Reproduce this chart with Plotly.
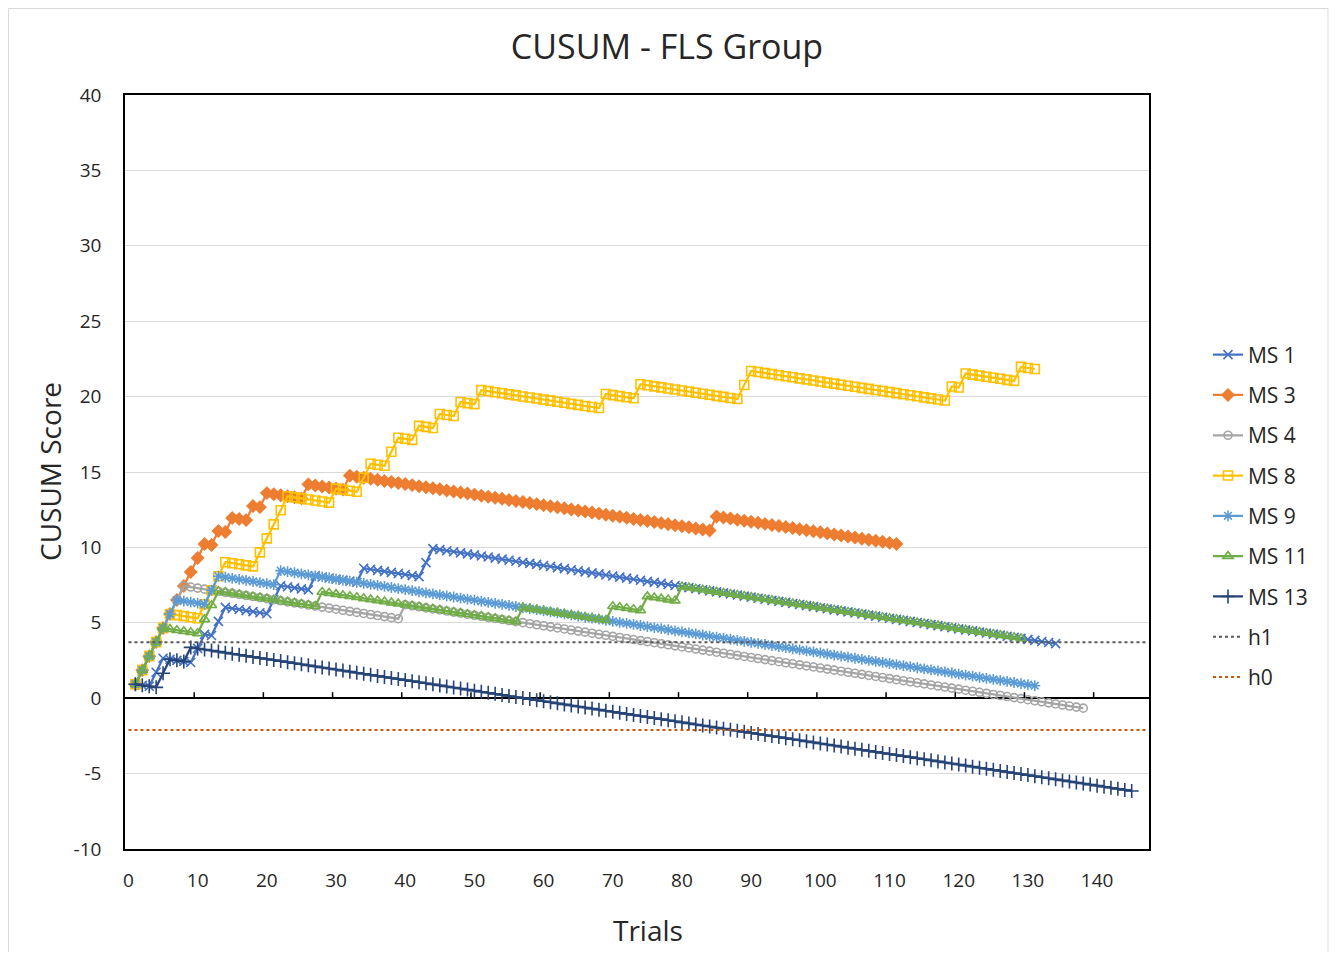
import plotly.graph_objects as go

# ---------------- data (CUSUM score per trial) ----------------
MS1 = [0.93, 0.86, 0.79, 1.72, 2.65, 2.58, 2.51, 2.44, 2.37, 3.30, 4.23, 4.16, 5.09, 6.02,
       5.95, 5.88, 5.81, 5.74, 5.67, 5.60, 6.53, 7.46, 7.39, 7.32, 7.25, 7.18, 8.11,
       8.04, 7.97, 7.90, 7.83, 7.76, 7.69, 8.62, 8.55, 8.48, 8.41, 8.34, 8.27, 8.20, 8.13, 8.06,
       8.99, 9.92, 9.85, 9.78, 9.71, 9.64, 9.57, 9.50,
       9.43, 9.36, 9.29, 9.22, 9.15, 9.08, 9.01, 8.94, 8.87, 8.80,
       8.73, 8.66, 8.59, 8.52, 8.45, 8.38, 8.31, 8.24, 8.17, 8.10,
       8.03, 7.96, 7.89, 7.82, 7.75, 7.68, 7.61, 7.54, 7.47, 7.40,
       7.33, 7.26, 7.19, 7.12, 7.05, 6.98, 6.91, 6.84, 6.77, 6.70,
       6.63, 6.56, 6.49, 6.42, 6.35, 6.28, 6.21, 6.14, 6.07, 6.00,
       5.93, 5.86, 5.79, 5.72, 5.65, 5.58, 5.51, 5.44, 5.37, 5.30,
       5.23, 5.16, 5.09, 5.02, 4.95, 4.88, 4.81, 4.74, 4.67, 4.60,
       4.53, 4.46, 4.39, 4.32, 4.25, 4.18, 4.11, 4.04, 3.97, 3.90,
       3.83, 3.76, 3.69, 3.62]

MS3 = [0.93, 1.86, 2.79, 3.72, 4.65, 5.58, 6.51, 7.44,
       8.37, 9.30, 10.23, 10.16, 11.09, 11.02, 11.95, 11.88, 11.81, 12.74, 12.67, 13.60,
       13.53, 13.46, 13.39, 13.32, 13.25, 14.18, 14.11, 14.04, 13.97, 13.90, 13.83, 14.76,
       14.69, 14.62, 14.55, 14.48, 14.41, 14.34, 14.27, 14.20, 14.13, 14.06,
       13.99, 13.92, 13.85, 13.78, 13.71, 13.64, 13.57, 13.50, 13.43, 13.36,
       13.29, 13.22, 13.15, 13.08, 13.01, 12.94, 12.87, 12.80, 12.73, 12.66,
       12.59, 12.52, 12.45, 12.38, 12.31, 12.24, 12.17, 12.10, 12.03, 11.96,
       11.89, 11.82, 11.75, 11.68, 11.61, 11.54, 11.47, 11.40, 11.33, 11.26,
       11.19, 11.12, 12.05,
       11.98, 11.91, 11.84, 11.77, 11.70, 11.63, 11.56, 11.49, 11.42, 11.35,
       11.28, 11.21, 11.14, 11.07, 11.00, 10.93, 10.86, 10.79, 10.72, 10.65,
       10.58, 10.51, 10.44, 10.37, 10.30, 10.23]

MS4 = [0.93, 1.86, 2.79, 3.72, 4.65, 5.58, 6.51, 7.44,
       7.37, 7.30, 7.23, 7.16, 7.09, 7.02, 6.95, 6.88, 6.81, 6.74,
       6.67, 6.60, 6.53, 6.46, 6.39, 6.32, 6.25, 6.18, 6.11, 6.04,
       5.97, 5.90, 5.83, 5.76, 5.69, 5.62, 5.55, 5.48, 5.41, 5.34, 5.27,
       6.20,
       6.13, 6.06, 5.99, 5.92, 5.85, 5.78, 5.71, 5.64, 5.57, 5.50,
       5.43, 5.36, 5.29, 5.22, 5.15, 5.08, 5.01, 4.94, 4.87, 4.80,
       4.73, 4.66, 4.59, 4.52, 4.45, 4.38, 4.31, 4.24, 4.17, 4.10,
       4.03, 3.96, 3.89, 3.82, 3.75, 3.68, 3.61, 3.54, 3.47, 3.40,
       3.33, 3.26, 3.19, 3.12, 3.05, 2.98, 2.91, 2.84, 2.77, 2.70,
       2.63, 2.56, 2.49, 2.42, 2.35, 2.28, 2.21, 2.14, 2.07, 2.00,
       1.93, 1.86, 1.79, 1.72, 1.65, 1.58, 1.51, 1.44, 1.37, 1.30,
       1.23, 1.16, 1.09, 1.02, 0.95, 0.88, 0.81, 0.74, 0.67, 0.60,
       0.53, 0.46, 0.39, 0.32, 0.25, 0.18, 0.11, 0.04, -0.03, -0.10,
       -0.17, -0.24, -0.31, -0.38, -0.45, -0.52, -0.59, -0.66]

MS8 = [0.93, 1.86, 2.79, 3.72, 4.65, 5.58,
       5.51, 5.44, 5.37, 5.30,
       6.23, 7.16, 8.09, 9.02,
       8.95, 8.88, 8.81, 8.74,
       9.67, 10.60, 11.53, 12.46, 13.39,
       13.32, 13.25, 13.18, 13.11, 13.04, 12.97,
       13.90, 13.83, 13.76, 13.69,
       14.62, 15.55, 15.48, 15.41,
       16.34, 17.27, 17.20, 17.13,
       18.06, 17.99, 17.92,
       18.85, 18.78, 18.71,
       19.64, 19.57, 19.50,
       20.43,
       20.36, 20.29, 20.22, 20.15, 20.08, 20.01, 19.94, 19.87, 19.80, 19.73,
       19.66, 19.59, 19.52, 19.45, 19.38, 19.31, 19.24,
       20.17, 20.10, 20.03, 19.96, 19.89,
       20.82, 20.75, 20.68, 20.61, 20.54, 20.47, 20.40, 20.33, 20.26, 20.19,
       20.12, 20.05, 19.98, 19.91, 19.84,
       20.77, 21.70,
       21.63, 21.56, 21.49, 21.42, 21.35, 21.28, 21.21, 21.14, 21.07, 21.00,
       20.93, 20.86, 20.79, 20.72, 20.65, 20.58, 20.51, 20.44, 20.37, 20.30,
       20.23, 20.16, 20.09, 20.02, 19.95, 19.88, 19.81, 19.74,
       20.67, 20.60, 21.53,
       21.46, 21.39, 21.32, 21.25, 21.18, 21.11, 21.04,
       21.97, 21.90, 21.83]

MS9 = [0.93, 1.86, 2.79, 3.72, 4.65, 5.58, 6.51,
       6.44, 6.37, 6.30, 6.23,
       7.16, 8.09,
       8.02, 7.95, 7.88, 7.81, 7.74, 7.67, 7.60, 7.53,
       8.46,
       8.39, 8.32, 8.25, 8.18, 8.11, 8.04, 7.97, 7.90, 7.83, 7.76,
       7.69, 7.62, 7.55, 7.48, 7.41, 7.34, 7.27, 7.20, 7.13, 7.06,
       6.99, 6.92, 6.85, 6.78, 6.71, 6.64, 6.57, 6.50, 6.43, 6.36,
       6.29, 6.22, 6.15, 6.08, 6.01, 5.94, 5.87, 5.80, 5.73, 5.66,
       5.59, 5.52, 5.45, 5.38, 5.31, 5.24, 5.17, 5.10, 5.03, 4.96,
       4.89, 4.82, 4.75, 4.68, 4.61, 4.54, 4.47, 4.40, 4.33, 4.26,
       4.19, 4.12, 4.05, 3.98, 3.91, 3.84, 3.77, 3.70, 3.63, 3.56,
       3.49, 3.42, 3.35, 3.28, 3.21, 3.14, 3.07, 3.00, 2.93, 2.86,
       2.79, 2.72, 2.65, 2.58, 2.51, 2.44, 2.37, 2.30, 2.23, 2.16,
       2.09, 2.02, 1.95, 1.88, 1.81, 1.74, 1.67, 1.60, 1.53, 1.46,
       1.39, 1.32, 1.25, 1.18, 1.11, 1.04, 0.97, 0.90, 0.83]

MS11 = [0.93, 1.86, 2.79, 3.72, 4.65,
        4.58, 4.51, 4.44, 4.37, 4.30,
        5.23, 6.16, 7.09,
        7.02, 6.95, 6.88, 6.81, 6.74, 6.67, 6.60, 6.53, 6.46, 6.39, 6.32, 6.25, 6.18, 6.11,
        7.04,
        6.97, 6.90, 6.83, 6.76, 6.69, 6.62, 6.55, 6.48, 6.41, 6.34,
        6.27, 6.20, 6.13, 6.06, 5.99, 5.92, 5.85, 5.78, 5.71, 5.64,
        5.57, 5.50, 5.43, 5.36, 5.29, 5.22, 5.15, 5.08,
        6.01,
        5.94, 5.87, 5.80, 5.73, 5.66, 5.59, 5.52, 5.45, 5.38, 5.31, 5.24, 5.17,
        6.10, 6.03, 5.96, 5.89, 5.82,
        6.75, 6.68, 6.61, 6.54, 6.47,
        7.40,
        7.33, 7.26, 7.19, 7.12, 7.05, 6.98, 6.91, 6.84, 6.77, 6.70,
        6.63, 6.56, 6.49, 6.42, 6.35, 6.28, 6.21, 6.14, 6.07, 6.00,
        5.93, 5.86, 5.79, 5.72, 5.65, 5.58, 5.51, 5.44, 5.37, 5.30,
        5.23, 5.16, 5.09, 5.02, 4.95, 4.88, 4.81, 4.74, 4.67, 4.60,
        4.53, 4.46, 4.39, 4.32, 4.25, 4.18, 4.11, 4.04, 3.97]

MS13 = [0.93, 0.86, 0.79, 0.72, 1.65, 2.58, 2.51, 2.44, 3.37,
        3.30, 3.23, 3.16, 3.09, 3.02, 2.95, 2.88, 2.81, 2.74, 2.67,
        2.60, 2.53, 2.46, 2.39, 2.32, 2.25, 2.18, 2.11, 2.04, 1.97,
        1.90, 1.83, 1.76, 1.69, 1.62, 1.55, 1.48, 1.41, 1.34, 1.27,
        1.20, 1.13, 1.06, 0.99, 0.92, 0.85, 0.78, 0.71, 0.64, 0.57,
        0.50, 0.43, 0.36, 0.29, 0.22, 0.15, 0.08, 0.01, -0.06, -0.13,
        -0.20, -0.27, -0.34, -0.41, -0.48, -0.55, -0.62, -0.69, -0.76, -0.83,
        -0.90, -0.97, -1.04, -1.11, -1.18, -1.25, -1.32, -1.39, -1.46, -1.53,
        -1.60, -1.67, -1.74, -1.81, -1.88, -1.95, -2.02, -2.09, -2.16, -2.23,
        -2.30, -2.37, -2.44, -2.51, -2.58, -2.65, -2.72, -2.79, -2.86, -2.93,
        -3.00, -3.07, -3.14, -3.21, -3.28, -3.35, -3.42, -3.49, -3.56, -3.63,
        -3.70, -3.77, -3.84, -3.91, -3.98, -4.05, -4.12, -4.19, -4.26, -4.33,
        -4.40, -4.47, -4.54, -4.61, -4.68, -4.75, -4.82, -4.89, -4.96, -5.03,
        -5.10, -5.17, -5.24, -5.31, -5.38, -5.45, -5.52, -5.59, -5.66, -5.73,
        -5.80, -5.87, -5.94, -6.01, -6.08, -6.15]

H1 = 3.71     # upper decision limit
H0 = -2.11    # lower decision limit

CATEGORY_FIRST = 0
CATEGORY_LAST = 147
X_TICKS = [0, 10, 20, 30, 40, 50, 60, 70, 80, 90, 100, 110, 120, 130, 140]
Y_TICKS = [-10, -5, 0, 5, 10, 15, 20, 25, 30, 35, 40]

SERIES = [
    ("MS 1", MS1, "#4472C4", "x-thin-open", 9),
    ("MS 3", MS3, "#ED7D31", "diamond", 9),
    ("MS 4", MS4, "#A5A5A5", "circle-open", 8),
    ("MS 8", MS8, "#FFC000", "square-open", 9),
    ("MS 9", MS9, "#5B9BD5", "asterisk-open", 9),
    ("MS 11", MS11, "#70AD47", "triangle-up-open", 9),
    ("MS 13", MS13, "#264478", "cross-thin-open", 10),
]

FONT = "Open Sans"
TXT = "#262626"

# page has an 8px body margin: figure is placed at (8, 8)
FIG_W, FIG_H = 1321, 944

fig = go.Figure()
for name, vals, col, sym, msize in SERIES:
    fig.add_trace(go.Scatter(
        x=list(range(1, len(vals) + 1)), y=vals, name=name, mode="lines+markers",
        line=dict(color=col, width=2.25),
        marker=dict(symbol=sym, size=msize, color=col, line=dict(color=col, width=1.6)),
        legendgroup=name,
    ))

cats = [CATEGORY_FIRST, CATEGORY_LAST]
fig.add_trace(go.Scatter(x=cats, y=[H1, H1], name="h1", mode="lines",
                         line=dict(color="#595959", width=2, dash="dot"), legendgroup="h1"))
fig.add_trace(go.Scatter(x=cats, y=[H0, H0], name="h0", mode="lines",
                         line=dict(color="#C55A11", width=2, dash="dot"), legendgroup="h0"))

# category-boundary tick marks on the horizontal axis that crosses at 0
shapes = []
for t in X_TICKS[1:]:
    shapes.append(dict(type="line", xref="x", yref="y", ysizemode="pixel", yanchor=0,
                       x0=t - 0.5, x1=t - 0.5, y0=0, y1=6,
                       line=dict(color="#000000", width=1.5)))
# outer chart-area border
shapes.append(dict(type="rect", xref="paper", yref="paper",
                   x0=(8.5 - 125) / 1024, x1=(1328 - 125) / 1024,
                   y0=(849 - 970) / 754, y1=(849 - 8.5) / 754,
                   line=dict(color="#D9D9D9", width=1), fillcolor="rgba(0,0,0,0)", layer="below"))

fig.update_layout(
    width=FIG_W, height=FIG_H,
    margin=dict(l=117, r=180, t=87, b=103),
    paper_bgcolor="white", plot_bgcolor="white",
    font=dict(family=FONT, color=TXT, size=19),
    title=dict(text="CUSUM - FLS Group", x=(667 - 8) / FIG_W, xref="container", xanchor="center",
               y=1 - (47 - 8) / FIG_H, yref="container", yanchor="middle",
               font=dict(family=FONT, size=34, color=TXT)),
    showlegend=True,
    legend=dict(x=1.0576, xanchor="left", y=(849 - 516) / 754, yanchor="middle",
                font=dict(family=FONT, size=21, color=TXT), traceorder="grouped",
                tracegroupgap=10, bgcolor="rgba(0,0,0,0)"),
    shapes=shapes,
    annotations=[
        dict(text="CUSUM Score", xref="paper", yref="paper", x=(50 - 125) / 1024, y=(849 - 472) / 754,
             textangle=-90, showarrow=False, xanchor="center", yanchor="middle",
             font=dict(family=FONT, size=28, color=TXT)),
        dict(text="Trials", xref="paper", yref="paper", x=(648 - 125) / 1024, y=(849 - 930) / 754,
             showarrow=False, xanchor="center", yanchor="middle",
             font=dict(family=FONT, size=28, color=TXT)),
    ],
)

fig.update_xaxes(range=[CATEGORY_FIRST - 0.5, CATEGORY_LAST + 0.5], tickmode="array",
                 tickvals=X_TICKS, ticktext=[str(v) for v in X_TICKS],
                 showgrid=False, zeroline=False, showline=True, mirror=True,
                 linecolor="#000000", linewidth=1.5, ticks="", ticklabelstandoff=13,
                 tickfont=dict(family=FONT, size=19, color=TXT))
fig.update_yaxes(range=[-10, 40], tickmode="array", tickvals=Y_TICKS,
                 ticktext=[str(v) for v in Y_TICKS],
                 showgrid=True, gridcolor="#D9D9D9", gridwidth=1.3,
                 zeroline=True, zerolinecolor="#000000", zerolinewidth=1.8,
                 showline=True, mirror=True, linecolor="#000000", linewidth=1.5,
                 ticks="", ticklabelstandoff=18,
                 tickfont=dict(family=FONT, size=19, color=TXT))

fig.write_html("out.html")
